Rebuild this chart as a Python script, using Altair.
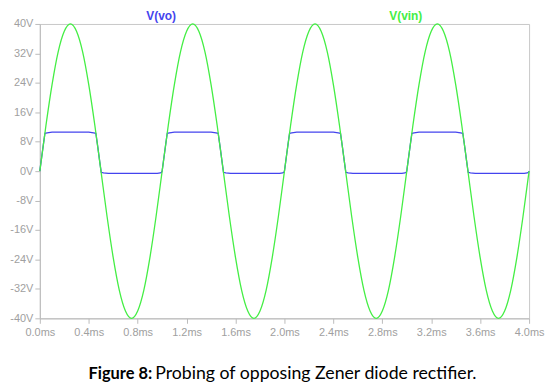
import altair as alt
import pandas as pd

# ---- data ----
t_vin = [round(0.05 * i, 2) for i in range(81)]
vin = [0, 12.4, 23.5, 32.4, 38.0, 40.0, 38.0, 32.4, 23.5, 12.4,
       0, -12.4, -23.5, -32.4, -38.0, -40.0, -38.0, -32.4, -23.5, -12.4,
       0, 12.4, 23.5, 32.4, 38.0, 40.0, 38.0, 32.4, 23.5, 12.4,
       0, -12.4, -23.5, -32.4, -38.0, -40.0, -38.0, -32.4, -23.5, -12.4,
       0, 12.4, 23.5, 32.4, 38.0, 40.0, 38.0, 32.4, 23.5, 12.4,
       0, -12.4, -23.5, -32.4, -38.0, -40.0, -38.0, -32.4, -23.5, -12.4,
       0, 12.4, 23.5, 32.4, 38.0, 40.0, 38.0, 32.4, 23.5, 12.4,
       0, -12.4, -23.5, -32.4, -38.0, -40.0, -38.0, -32.4, -23.5, -12.4,
       0]

t_vo = [0.000, 0.010, 0.020, 0.030, 0.042, 0.060, 0.100, 0.400, 0.440, 0.458, 0.475, 0.490, 0.502, 0.520, 0.560, 0.960, 0.985, 0.995,
        1.000, 1.010, 1.020, 1.030, 1.042, 1.060, 1.100, 1.400, 1.440, 1.458, 1.475, 1.490, 1.502, 1.520, 1.560, 1.960, 1.985, 1.995,
        2.000, 2.010, 2.020, 2.030, 2.042, 2.060, 2.100, 2.400, 2.440, 2.458, 2.475, 2.490, 2.502, 2.520, 2.560, 2.960, 2.985, 2.995,
        3.000, 3.010, 3.020, 3.030, 3.042, 3.060, 3.100, 3.400, 3.440, 3.458, 3.475, 3.490, 3.502, 3.520, 3.560, 3.960, 3.985, 3.995,
        4.000]
vo = [0.0, 2.5, 5.0, 7.5, 10.3, 10.4, 10.6, 10.6, 10.4, 10.3, 6.3, 2.5, -0.3, -0.5, -0.6, -0.6, -0.5, -0.3,
      0.0, 2.5, 5.0, 7.5, 10.3, 10.4, 10.6, 10.6, 10.4, 10.3, 6.3, 2.5, -0.3, -0.5, -0.6, -0.6, -0.5, -0.3,
      0.0, 2.5, 5.0, 7.5, 10.3, 10.4, 10.6, 10.6, 10.4, 10.3, 6.3, 2.5, -0.3, -0.5, -0.6, -0.6, -0.5, -0.3,
      0.0, 2.5, 5.0, 7.5, 10.3, 10.4, 10.6, 10.6, 10.4, 10.3, 6.3, 2.5, -0.3, -0.5, -0.6, -0.6, -0.5, -0.3,
      0.0]

x_ticks = [0.0, 0.4, 0.8, 1.2, 1.6, 2.0, 2.4, 2.8, 3.2, 3.6, 4.0]
y_ticks = [-40, -32, -24, -16, -8, 0, 8, 16, 24, 32, 40]
trace_names = ["V(vo)", "V(vin)"]
caption_bold = "Figure 8:"
caption_text = "Probing of opposing Zener diode rectifier."

GREEN = "#44ee44"
BLUE = "#4444ee"
GRAY = "#a0a0a0"

df_vin = pd.DataFrame({"t": t_vin, "v": vin})
df_vo = pd.DataFrame({"t": t_vo, "v": vo})

xscale = alt.Scale(domain=[0, 4], nice=False, zero=False)
yscale = alt.Scale(domain=[-40, 40], nice=False)

xaxis = alt.Axis(values=x_ticks, labelExpr="format(datum.value, '.1f') + 'ms'", title=None,
                 grid=False, domainColor="#bbbbbb", tickColor="#bbbbbb", tickSize=5,
                 labelColor=GRAY, labelFont="Liberation Sans", labelFontSize=11, labelPadding=3,
                 labelOverlap=False, labelFlush=False, labelBound=False)
yaxis = alt.Axis(values=y_ticks, labelExpr="datum.value + 'V'", title=None,
                 grid=False, domainColor="#bbbbbb", tickColor="#bbbbbb", tickSize=5,
                 labelColor=GRAY, labelFont="Liberation Sans", labelFontSize=11, labelPadding=2,
                 labelOverlap=False, labelFlush=False, labelBound=False)

line_vo = alt.Chart(df_vo).mark_line(color=BLUE, strokeWidth=1.3).encode(
    x=alt.X("t:Q", scale=xscale, axis=xaxis),
    y=alt.Y("v:Q", scale=yscale, axis=yaxis),
)
line_vin = alt.Chart(df_vin).mark_line(color=GREEN, strokeWidth=1.3, interpolate="monotone").encode(
    x=alt.X("t:Q", scale=xscale, axis=xaxis),
    y=alt.Y("v:Q", scale=yscale, axis=yaxis),
)

lab_vo = alt.Chart(pd.DataFrame({"s": [trace_names[0]]})).mark_text(
    color=BLUE, font="Liberation Sans", fontWeight="bold", fontSize=12, align="center", baseline="middle"
).encode(text="s:N", x=alt.value(122), y=alt.value(-8))
lab_vin = alt.Chart(pd.DataFrame({"s": [trace_names[1]]})).mark_text(
    color=GREEN, font="Liberation Sans", fontWeight="bold", fontSize=12, align="center", baseline="middle"
).encode(text="s:N", x=alt.value(368), y=alt.value(-8))

cap1 = alt.Chart(pd.DataFrame({"s": [caption_bold]})).mark_text(
    color="#000000", font="Lato", fontWeight="bold", fontSize=16.5, align="right", baseline="alphabetic"
).encode(text="s:N", x=alt.value(113), y=alt.value(357))
cap2 = alt.Chart(pd.DataFrame({"s": [caption_text]})).mark_text(
    color="#000000", font="Lato", fontSize=17.8, align="left", baseline="alphabetic"
).encode(text="s:N", x=alt.value(116), y=alt.value(357))

chart = alt.layer(line_vo, line_vin, lab_vo, lab_vin, cap1, cap2).properties(
    width=492, height=296,
    autosize=alt.AutoSizeParams(type="none"),
    padding={"left": 32, "top": 15, "right": 16, "bottom": 67},
).configure_view(stroke="#c8c8c8", strokeWidth=1)

chart.save("out.html", embed_options={"renderer": "svg", "actions": False})
